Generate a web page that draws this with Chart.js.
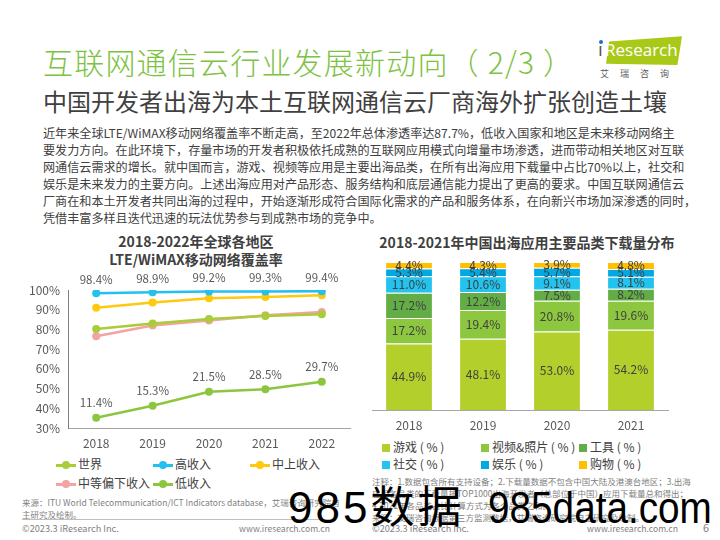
<!DOCTYPE html>
<html>
<head>
<meta charset="utf-8">
<script src="https://cdn.jsdelivr.net/npm/chart.js@4.4.1/dist/chart.umd.min.js"></script>
<style>
  html, body { margin: 0; padding: 0; background: #fff; }
  body { width: 720px; height: 540px; position: relative; overflow: hidden;
         font-family: "Noto Sans CJK SC", "Noto Sans", sans-serif; color: #404040; }
  .abs { position: absolute; white-space: nowrap; }
  #title { left: 43px; top: 41px; font-size: 30px; line-height: 40px; color: #7dc242; font-weight: 300; letter-spacing: 1.2px; }
  #subtitle { left: 43px; top: 86px; font-size: 24px; line-height: 30px; color: #404040; }
  #para { left: 43px; top: 124px; font-size: 12.1px; line-height: 17px; color: #404040; }
  .ctitle { font-size: 14px; font-weight: bold; line-height: 18px; color: #404040; text-align: center; }
  .legend { font-size: 12px; color: #404040; line-height: 16px; }
  .lmark { display: inline-block; position: relative; width: 20px; height: 10px; vertical-align: -1px; margin-right: 2px; }
  .lmark:before { content: ""; position: absolute; left: 0; right: 0; top: 4px; height: 2.5px; background: var(--c); }
  .lmark:after { content: ""; position: absolute; left: 6px; top: 1px; width: 8px; height: 8px; border-radius: 50%; background: var(--c); }
  .smark { display: inline-block; width: 8px; height: 8px; margin-right: 3px; background: var(--c); }
  .note { font-size: 8.5px; line-height: 12px; color: #7f7f7f; }
  .foot { font-size: 9.2px; line-height: 12px; color: #7f7f7f; }
  .www { font-size: 8.6px; }
  #logo { left: 598px; top: 35px; width: 84px; height: 30px; }
  #logoBg { position: absolute; left: 8px; top: 0; width: 76px; height: 30px; background: #a9c919;
            clip-path: polygon(4% 22%, 100% 4%, 94% 100%, 0% 96%); }
  .wm { top: 482px; font-size: 44px; line-height: 52px; color: #000;
        font-family: "Liberation Sans", "Noto Sans CJK SC", sans-serif; transform-origin: left center; }
</style>
</head>
<body>
<div class="abs" id="title">互联网通信云行业发展新动向（ 2/3 ）</div>
<div class="abs" id="subtitle">中国开发者出海为本土互联网通信云厂商海外扩张创造土壤</div>

<div class="abs" id="logo">
  <div id="logoBg"></div>
  <div class="abs" style="left:0;top:1px;font-size:19px;line-height:26px;color:#555;font-family:'Open Sans',sans-serif;">ı</div>
  <div class="abs" style="left:1px;top:5px;width:4px;height:4px;border-radius:50%;background:#1f6fd1;"></div>
  <div class="abs" style="left:7px;top:3px;font-size:17px;line-height:24px;color:#fff;font-family:'Open Sans',sans-serif;">Research</div>
  <div class="abs" style="left:2px;top:33px;font-size:9px;line-height:12px;color:#595959;letter-spacing:11px;">艾瑞咨询</div>
</div>

<div class="abs" id="para">近年来全球LTE/WiMAX移动网络覆盖率不断走高，至2022年总体渗透率达87.7%，低收入国家和地区是未来移动网络主<br>要发力方向。在此环境下，存量市场的开发者积极依托成熟的互联网应用模式向增量市场渗透，进而带动相关地区对互联<br>网通信云需求的增长。就中国而言，游戏、视频等应用是主要出海品类，在所有出海应用下载量中占比70%以上，社交和<br>娱乐是未来发力的主要方向。上述出海应用对产品形态、服务结构和底层通信能力提出了更高的要求。中国互联网通信云<br>厂商在和本土开发者共同出海的过程中，开始逐渐形成符合国际化需求的产品和服务体系，在向新兴市场加深渗透的同时，<br>凭借丰富多样且迭代迅速的玩法优势参与到成熟市场的竞争中。</div>

<div class="abs ctitle" style="left:46px;top:232px;width:300px;">2018-2022年全球各地区<br>LTE/WiMAX移动网络覆盖率</div>
<div class="abs ctitle" style="left:372px;top:233px;width:310px;">2018-2021年中国出海应用主要品类下载量分布</div>

<div class="abs" style="left:20px;top:262px;width:335px;height:190px;"><canvas id="coverageChart"></canvas></div>
<div class="abs" style="left:360px;top:250px;width:320px;height:185px;"><canvas id="appChart"></canvas></div>

<div class="abs legend" style="left:56px;top:456px;"><span class="lmark" style="--c:#a8cc3a"></span>世界</div>
<div class="abs legend" style="left:153px;top:456px;"><span class="lmark" style="--c:#22c1ee"></span>高收入</div>
<div class="abs legend" style="left:250px;top:456px;"><span class="lmark" style="--c:#ffc90e"></span>中上收入</div>
<div class="abs legend" style="left:56px;top:475px;"><span class="lmark" style="--c:#f4a2a2"></span>中等偏下收入</div>
<div class="abs legend" style="left:153px;top:475px;"><span class="lmark" style="--c:#8cc63f"></span>低收入</div>

<div class="abs legend" style="left:382px;top:439px;"><span class="smark" style="--c:#b2cf2c"></span>游戏 ( % )</div>
<div class="abs legend" style="left:481px;top:439px;"><span class="smark" style="--c:#8dc63f"></span>视频&amp;照片 ( % )</div>
<div class="abs legend" style="left:579px;top:439px;"><span class="smark" style="--c:#62ad46"></span>工具 ( % )</div>
<div class="abs legend" style="left:382px;top:456px;"><span class="smark" style="--c:#22c3ef"></span>社交 ( % )</div>
<div class="abs legend" style="left:481px;top:456px;"><span class="smark" style="--c:#00a9e1"></span>娱乐 ( % )</div>
<div class="abs legend" style="left:579px;top:456px;"><span class="smark" style="--c:#ffc000"></span>购物 ( % )</div>

<div class="abs note" style="left:22px;top:496px;">来源：ITU World Telecommunication/ICT Indicators database，艾瑞咨询研究院自<br>主研究及绘制。</div>
<div class="abs note" style="left:372px;top:475px;">注释：1.数据包含所有支持设备；2.下载量数据不包含中国大陆及港澳台地区；3.出海<br>应用各品类的下载量按TOP1000出海开发者（总部位于中国）应用下载量总和得出；<br>4.2021年各品类占比计算方式为各个品类之和。<br>来源：艾瑞咨询根据第三方监测数据，艾瑞咨询研究院自主研究及绘制。</div>

<div class="abs" style="left:22px;top:519px;width:310px;height:1px;background:#bfbfbf;"></div>
<div class="abs foot" style="left:22px;top:522px;">©2023.3 iResearch Inc.</div>
<div class="abs foot www" style="right:390px;top:522px;">www.iresearch.com.cn</div>
<div class="abs foot" style="left:372px;top:522px;">©2023.3 iResearch Inc.</div>
<div class="abs foot www" style="right:42px;top:522px;">www.iresearch.com.cn</div>
<div class="abs foot" style="left:703px;top:521px;font-size:11px;">6</div>

<div class="abs wm" style="left:288px;letter-spacing:3px;">985数据</div>
<div class="abs wm" style="left:488px;transform:scaleX(0.88);">985data.com</div>

<script>
// left chart: coverage by income group (%)
var years = ['2018', '2019', '2020', '2021', '2022'];
var world = [80.2, 83.0, 85.3, 86.8, 87.7];
var highIncome = [98.4, 98.9, 99.2, 99.3, 99.4];
var upperMiddle = [91.0, 93.6, 95.8, 96.4, 97.3];
var lowerMiddle = [76.5, 82.0, 84.5, 87.2, 88.8];
// the source plots the low income line higher than its labels say, so keep both
var lowIncomePlotted = [35.2, 41.3, 48.4, 49.6, 53.5];
var lowIncomeLabels = [11.4, 15.3, 21.5, 28.5, 29.7];
var coverageTicks = [30, 40, 50, 60, 70, 80, 90, 100];

// right chart: download share by category (%)
var appYears = ['2018', '2019', '2020', '2021'];
var games = [44.9, 48.1, 53.0, 54.2];
var video = [17.2, 19.4, 20.8, 19.6];
var tools = [17.2, 12.2, 7.5, 8.2];
var social = [11.0, 10.6, 9.1, 8.1];
var entertainment = [5.3, 5.4, 5.7, 5.1];
var shopping = [4.4, 4.3, 3.9, 4.8];

var labelFont = '11.5px "Noto Sans CJK SC", sans-serif';

function lineSet(label, data, color) {
    return {
        label: label,
        data: data,
        borderColor: color,
        backgroundColor: color,
        borderWidth: 2.5,
        pointRadius: 4,
        pointBackgroundColor: color,
        pointBorderWidth: 0,
        tension: 0
    };
}

var coverageLabels = {
    id: 'coverageLabels',
    afterDatasetsDraw: function(chart) {
        var ctx = chart.ctx;
        ctx.save();
        ctx.font = labelFont;
        ctx.fillStyle = '#595959';
        ctx.textAlign = 'center';
        ctx.textBaseline = 'middle';
        chart.getDatasetMeta(1).data.forEach(function(pt, i) {
            ctx.fillText(highIncome[i].toFixed(1) + '%', pt.x, pt.y - 14);
        });
        chart.getDatasetMeta(4).data.forEach(function(pt, i) {
            ctx.fillText(lowIncomeLabels[i].toFixed(1) + '%', pt.x, pt.y - 15);
        });
        ctx.restore();
    }
};

new Chart(document.getElementById('coverageChart'), {
    type: 'line',
    data: {
        labels: years,
        datasets: [
            lineSet('世界', world, '#a8cc3a'),
            lineSet('高收入', highIncome, '#22c1ee'),
            lineSet('中上收入', upperMiddle, '#ffc90e'),
            lineSet('中等偏下收入', lowerMiddle, '#f4a2a2'),
            lineSet('低收入', lowIncomePlotted, '#8cc63f')
        ]
    },
    options: {
        responsive: true,
        maintainAspectRatio: false,
        animation: false,
        layout: { padding: { top: 28, right: 5, left: 0, bottom: 0 } },
        plugins: { legend: { display: false }, tooltip: { enabled: false } },
        scales: {
            x: {
                offset: true,
                grid: { display: false, drawTicks: false },
                border: { color: '#a6a6a6', width: 1 },
                ticks: { color: '#595959', font: { size: 12, family: 'Noto Sans CJK SC' }, padding: 8 },
                afterFit: function(scale) { scale.height = 24; }
            },
            y: {
                min: 30,
                max: 100,
                afterBuildTicks: function(scale) {
                    scale.ticks = coverageTicks.map(v => ({ value: v }));
                },
                grid: { display: false, drawTicks: false },
                border: { color: '#7f7f7f', width: 1 },
                ticks: {
                    color: '#595959',
                    font: { size: 12, family: 'Noto Sans CJK SC' },
                    padding: 8,
                    callback: function(value) { return value + '%'; }
                },
                afterFit: function(scale) { scale.width = 48; }
            }
        }
    },
    plugins: [coverageLabels]
});

function barSet(label, data, color) {
    return {
        label: label,
        data: data,
        backgroundColor: color,
        borderColor: 'rgba(255,255,255,0.7)',
        borderWidth: { top: 1, bottom: 0, left: 0, right: 0 },
        borderSkipped: false,
        barPercentage: 0.62,
        categoryPercentage: 1
    };
}

var appLabels = {
    id: 'appLabels',
    afterDatasetsDraw: function(chart) {
        var ctx = chart.ctx;
        ctx.save();
        ctx.font = '12px "Noto Sans CJK SC", sans-serif';
        ctx.fillStyle = '#404040';
        ctx.textAlign = 'center';
        ctx.textBaseline = 'middle';
        chart.data.datasets.forEach(function(ds, d) {
            chart.getDatasetMeta(d).data.forEach(function(bar, i) {
                ctx.fillText(ds.data[i].toFixed(1) + '%', bar.x, (bar.y + bar.base) / 2);
            });
        });
        ctx.restore();
    }
};

new Chart(document.getElementById('appChart'), {
    type: 'bar',
    data: {
        labels: appYears,
        datasets: [
            barSet('游戏（%）', games, '#b2cf2c'),
            barSet('视频&照片（%）', video, '#8dc63f'),
            barSet('工具（%）', tools, '#62ad46'),
            barSet('社交（%）', social, '#22c3ef'),
            barSet('娱乐（%）', entertainment, '#00a9e1'),
            barSet('购物（%）', shopping, '#ffc000')
        ]
    },
    options: {
        responsive: true,
        maintainAspectRatio: false,
        animation: false,
        layout: { padding: { top: 12, right: 12, left: 12, bottom: 0 } },
        plugins: { legend: { display: false }, tooltip: { enabled: false } },
        scales: {
            x: {
                stacked: true,
                grid: { display: false, drawTicks: false },
                border: { color: '#a6a6a6', width: 1 },
                ticks: { color: '#595959', font: { size: 12, family: 'Noto Sans CJK SC' }, padding: 8 },
                afterFit: function(scale) { scale.height = 25; }
            },
            y: {
                stacked: true,
                display: false,
                min: 0,
                max: 100
            }
        }
    },
    plugins: [appLabels]
});
</script>
</body>
</html>
